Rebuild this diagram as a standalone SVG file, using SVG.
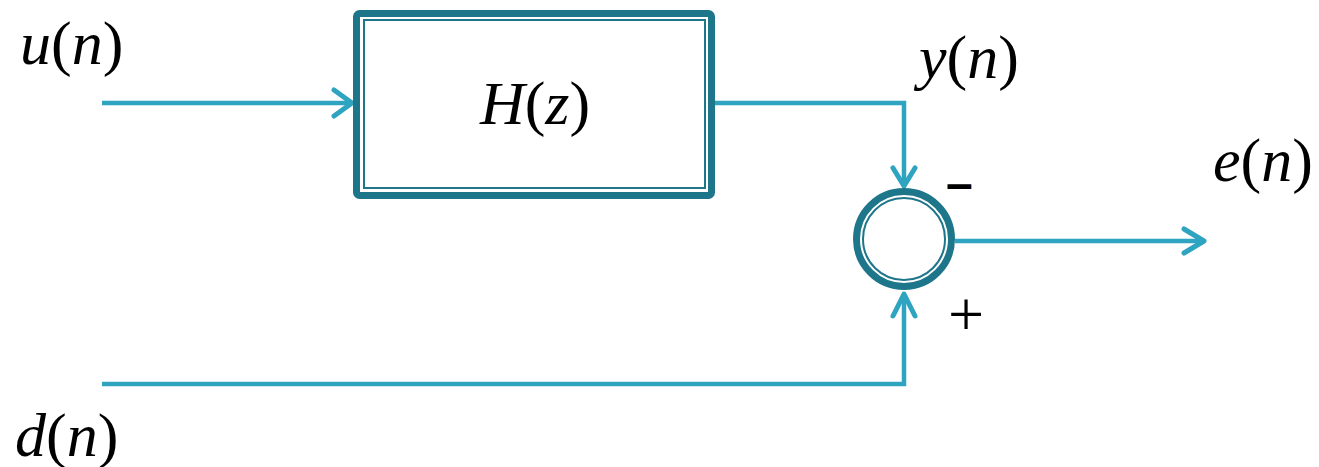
<svg xmlns="http://www.w3.org/2000/svg" width="1319" height="467" viewBox="0 0 1319 467">
<style>
.lbl{font-family:'Liberation Serif','Times New Roman',serif;font-size:62px;fill:#000}
.it{font-style:italic}
.wire{fill:none;stroke:#2fa4c1;stroke-width:4.5;stroke-linejoin:miter}
.head{fill:none;stroke:#2fa4c1;stroke-width:5;stroke-linecap:round;stroke-linejoin:round}
.outer{fill:#fff;stroke:#1e768a;stroke-width:7}
.inner{fill:none;stroke:#1e768a;stroke-width:2}
</style>
<rect width="1319" height="467" fill="#fff"/>
<g id="connectors">
  <path class="wire" d="M102,103 H352"/>
  <path class="head" d="M334,90 L352,103 L334,116"/>
  <path class="wire" d="M714,103 H904 V185"/>
  <path class="head" d="M893,168 L904,186 L915,168"/>
  <path class="wire" d="M102,384 H904 V294"/>
  <path class="head" d="M893,316 L904,294 L915,316"/>
  <path class="wire" d="M955,241 H1203"/>
  <path class="head" d="M1184,229 L1204,241 L1184,253"/>
</g>
<g id="H">
  <rect class="outer" x="356.5" y="13.5" width="355" height="182" rx="3"/>
  <rect class="inner" x="364" y="20" width="341" height="168"/>
  <text class="lbl" x="535" y="124" text-anchor="middle"><tspan class="it">H</tspan>(<tspan class="it">z</tspan>)</text>
</g>
<g id="sum">
  <circle class="outer" cx="904" cy="239" r="47.5"/>
  <circle class="inner" cx="904" cy="239" r="41"/>
  <text x="946" y="200" font-family="Liberation Sans, sans-serif" font-size="48" font-weight="bold">–</text>
  <text x="948" y="336" font-family="Liberation Serif, serif" font-size="64">+</text>
</g>
<g id="u"><text class="lbl" x="20" y="64"><tspan class="it">u</tspan>(<tspan class="it">n</tspan>)</text></g>
<g id="y"><text class="lbl" x="919" y="78"><tspan class="it">y</tspan>(<tspan class="it">n</tspan>)</text></g>
<g id="e"><text class="lbl" x="1213" y="181"><tspan class="it">e</tspan>(<tspan class="it">n</tspan>)</text></g>
<g id="d"><text class="lbl" x="15" y="456"><tspan class="it">d</tspan>(<tspan class="it">n</tspan>)</text></g>
</svg>
